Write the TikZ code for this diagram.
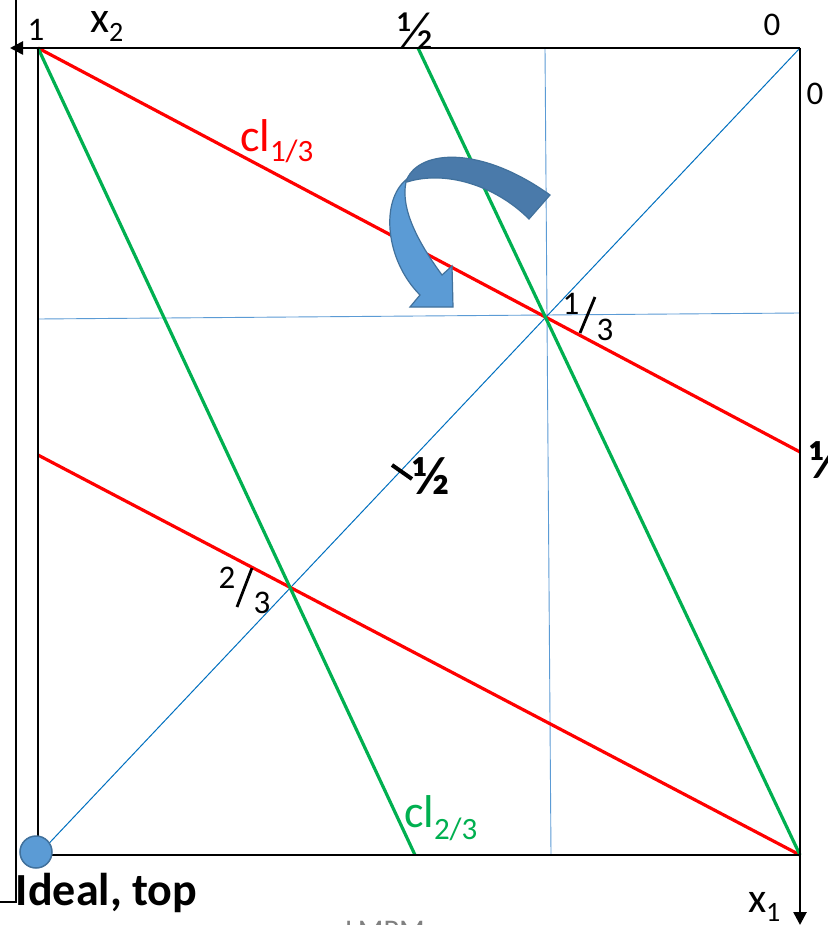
\documentclass[tikz,border=0pt]{standalone}
\usepackage{fontspec}
\setmainfont{Carlito}
\usetikzlibrary{arrows.meta}
\definecolor{redl}{HTML}{FF0000}
\definecolor{greenl}{HTML}{00B050}
\definecolor{thinblue}{HTML}{5B9BD5}
\definecolor{diagblue}{HTML}{0070C0}
\definecolor{arrowdark}{HTML}{4A7AAA}
\definecolor{arrowlight}{HTML}{5B9BD5}
\definecolor{arrowedge}{HTML}{41719C}
\newcommand\myfs[1]{\fontsize{#1}{#1}\selectfont}
\begin{document}
\begin{tikzpicture}[x=1pt,y=-1pt,
  boxline/.style={line width=2.6pt,black},
  redline/.style={line width=3.2pt,redl},
  greenline/.style={line width=3.2pt,greenl},
  thinline/.style={line width=0.9pt,thinblue},
  diagline/.style={line width=1pt,diagblue},
  lbl/.style={inner sep=0pt,outer sep=0pt},
  tip/.style={-{Triangle[length=13pt,width=13pt]}},
  slash/.style={line width=2.8pt,black}]
\useasboundingbox (0,0) rectangle (827,925);
\clip (0,0) rectangle (827,925);
\fill[white] (0,0) rectangle (827,925);
% corners
\coordinate (TL) at (38,48);
\coordinate (TR) at (800,48);
\coordinate (BL) at (38,855);
\coordinate (BR) at (800,855);
\coordinate (Xtwo) at (10,48);
\coordinate (Xone) at (800,925);
% thin blue lines
\coordinate (Hl) at (38,319);
\coordinate (Hr) at (800,313);
\coordinate (Vt) at (545,48);
\coordinate (Vb) at (551,855);
\draw[thinline] (Hl) -- (Hr);
\draw[thinline] (Vt) -- (Vb);
\draw[diagline] (BL) -- (TR);
% red lines
\coordinate (Ra) at (800,452);
\coordinate (Rb) at (38,455);
\draw[redline] (TL) -- (Ra);
\draw[redline] (Rb) -- (BR);
% green lines
\coordinate (Ga) at (415,855);
\coordinate (Gb) at (418,48);
\draw[greenline] (TL) -- (Ga);
\draw[greenline] (Gb) -- (BR);
% box
\draw[boxline] (TL) -- (BL) -- (BR);
\draw[boxline,tip] (TR) -- (Xtwo);
\draw[boxline,tip] (TR) -- (Xone);
% outer frame line
\coordinate (Oa) at (16,0);
\coordinate (Ob) at (16,902);
\coordinate (Oc) at (0,902);
\draw[line width=2pt] (Oa) -- (Ob) -- (Oc);
% curved block arrow
\filldraw[fill=arrowlight,draw=arrowedge,line width=1.2pt,line join=miter]
  (407,179) .. controls (380,200) and (385,260) .. (420,295)
  -- (410,307) -- (453,307) -- (452,266) -- (442,275)
  .. controls (420,245) and (400,210) .. (406,182) -- cycle;
\filldraw[fill=arrowdark,draw=arrowedge,line width=1.2pt,line join=miter]
  (407,179) .. controls (420,150) and (480,145) .. (550,195)
  -- (529,219) .. controls (495,185) and (445,170) .. (407,182) -- cycle;
% ideal point
\node[circle,fill=arrowlight,draw=arrowedge,line width=1.5pt,minimum size=32pt,inner sep=0pt] (ideal) at (36,852) {};
% labels
\node[lbl] (one) at (36,30) {\myfs{33}1};
\node[lbl,anchor=base west] (xtwo) at (90,33) {\myfs{44}x\raisebox{-9pt}{\myfs{28}2}};
\node[lbl] (halftop) at (416,31) {\myfs{54}½};
\node[lbl] (zerotop) at (772,25) {\myfs{33}0};
\node[lbl] (zeroright) at (815,94) {\myfs{33}0};
\node[lbl] (halfright) at (828,460) {\myfs{54}\bfseries ½};
\node[lbl,anchor=base west,text=redl] (clone) at (240,152) {\myfs{46}cl\raisebox{-10pt}{\myfs{31}1/3}};
\node[lbl,anchor=base west,text=greenl] (cltwo) at (404,827) {\myfs{46}cl\raisebox{-12pt}{\myfs{31}2/3}};
% 1/3 mark
\node[lbl] (thA) at (571,304) {\myfs{33}1};
\draw[slash] (580,333) -- (595,297);
\node[lbl] (thB) at (605,330) {\myfs{33}3};
% 2/3 mark
\node[lbl] (ttA) at (227,578) {\myfs{33}2};
\draw[slash] (237,607) -- (252,568);
\node[lbl] (ttB) at (262,603) {\myfs{33}3};
% 1/2 mark on diagonal
\draw[line width=4pt] (392,465) -- (412,479);
\node[lbl] (halfmid) at (431,476) {\myfs{54}\bfseries ½};
% axis label x1
\node[lbl,anchor=base west] (xone) at (748,912) {\myfs{42}x\raisebox{-9pt}{\myfs{28}1}};
% title
\node[lbl,anchor=base west] (title) at (16,905) {\myfs{46}\bfseries Ideal, top};
% footer
\node[lbl,anchor=base,text=gray] (footer) at (385,940) {\myfs{30}LMPM};
\end{tikzpicture}
\end{document}
